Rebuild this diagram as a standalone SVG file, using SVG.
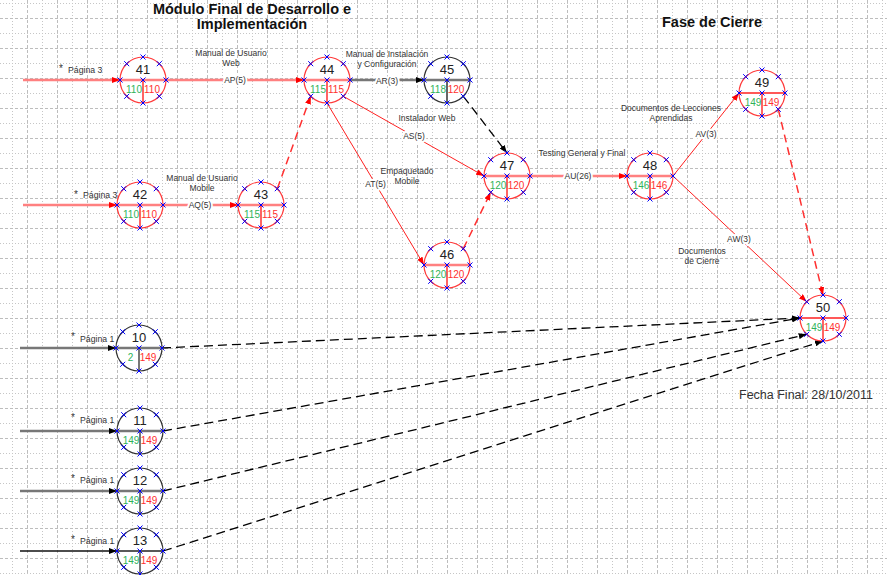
<svg xmlns="http://www.w3.org/2000/svg" width="887" height="575" viewBox="0 0 887 575">
<style>
text{font-family:"Liberation Sans",Arial,sans-serif;}
.ttl{font-size:14.5px;font-weight:bold;fill:#111;text-anchor:middle;}
.lb{font-size:8.5px;fill:#333;text-anchor:middle;}
.cd{font-size:8.5px;fill:#333;text-anchor:middle;stroke:#fff;stroke-width:4;paint-order:stroke;stroke-linejoin:round;}
.pg{font-size:8.7px;fill:#333;}
.st{font-size:10px;fill:#333;}
.num{font-size:13px;fill:#222;text-anchor:middle;}
.es{font-size:10px;fill:#2fb35a;text-anchor:middle;}
.ls{font-size:10px;fill:#ff3030;text-anchor:middle;}
.cr{fill:#fff;stroke:#ff3b3b;stroke-width:1.2;}
.ck{fill:#fff;stroke:#333;stroke-width:1.2;}
.hp{stroke:#ff8080;stroke-width:2.5;}
.hr{stroke:#ff2020;stroke-width:1.5;}
.hg{stroke:#777;stroke-width:2.5;}
.hk{stroke:#222;stroke-width:1.5;}
.vr{stroke:#ff3030;stroke-width:1.5;}
.vk{stroke:#333;stroke-width:1.5;}
.vg{stroke:#777;stroke-width:2;}
.ep{stroke:#ff8080;stroke-width:2.5;fill:none;}
.er{stroke:#ff2020;stroke-width:1;fill:none;}
.erd{stroke:#ff3030;stroke-width:1.5;fill:none;stroke-dasharray:8 5;}
.ekd{stroke:#000;stroke-width:1.3;fill:none;stroke-dasharray:9 5;}
.eg{stroke:#777;stroke-width:2.5;fill:none;}
.ek{stroke:#111;stroke-width:1.5;fill:none;}
.mk{stroke:#0000ff;stroke-width:1;fill:none;}
.gmin{stroke:#c6c6c6;stroke-width:1;stroke-dasharray:1 2;fill:none;}
.gmaj{stroke:#bdbdbd;stroke-width:1;stroke-dasharray:3 2;fill:none;}
</style>
<defs>
<marker id="ar" viewBox="0 0 8 6" refX="8" refY="3" markerWidth="8" markerHeight="6" markerUnits="userSpaceOnUse" orient="auto"><path d="M0,0L8,3L0,6z" fill="#ff0000"/></marker>
<marker id="ak" viewBox="0 0 8 6" refX="8" refY="3" markerWidth="8" markerHeight="6" markerUnits="userSpaceOnUse" orient="auto"><path d="M0,0L8,3L0,6z" fill="#000"/></marker>
<path id="xm" class="mk" d="M-2.5,-25.5l5,5m0,-5l-5,5M13.8,-18.8l5,5m0,-5l-5,5M20.5,-2.5l5,5m0,-5l-5,5M13.8,13.8l5,5m0,-5l-5,5M-2.5,20.5l5,5m0,-5l-5,5M-18.8,13.8l5,5m0,-5l-5,5M-25.5,-2.5l5,5m0,-5l-5,5M-18.8,-18.8l5,5m0,-5l-5,5M-2.5,-2.5l5,5m0,-5l-5,5"/>
</defs>
<rect width="887" height="575" fill="#fff"/>
<g id="grid">
<path class="gmin" d="M12.5,0V575M42.5,0V575M72.5,0V575M102.5,0V575M132.5,0V575M162.5,0V575M192.5,0V575M222.5,0V575M252.5,0V575M282.5,0V575M312.5,0V575M342.5,0V575M372.5,0V575M402.5,0V575M432.5,0V575M462.5,0V575M492.5,0V575M522.5,0V575M552.5,0V575M582.5,0V575M612.5,0V575M642.5,0V575M672.5,0V575M702.5,0V575M732.5,0V575M762.5,0V575M792.5,0V575M822.5,0V575M852.5,0V575M882.5,0V575M0,3.5H887M0,33.5H887M0,63.5H887M0,93.5H887M0,123.5H887M0,153.5H887M0,183.5H887M0,213.5H887M0,243.5H887M0,273.5H887M0,303.5H887M0,333.5H887M0,363.5H887M0,393.5H887M0,423.5H887M0,453.5H887M0,483.5H887M0,513.5H887M0,543.5H887M0,573.5H887"/>
<path class="gmaj" d="M27.5,0V575M57.5,0V575M87.5,0V575M117.5,0V575M147.5,0V575M177.5,0V575M207.5,0V575M237.5,0V575M267.5,0V575M297.5,0V575M327.5,0V575M357.5,0V575M387.5,0V575M417.5,0V575M447.5,0V575M477.5,0V575M507.5,0V575M537.5,0V575M567.5,0V575M597.5,0V575M627.5,0V575M657.5,0V575M687.5,0V575M717.5,0V575M747.5,0V575M777.5,0V575M807.5,0V575M837.5,0V575M867.5,0V575M0,18.5H887M0,48.5H887M0,78.5H887M0,108.5H887M0,138.5H887M0,168.5H887M0,198.5H887M0,228.5H887M0,258.5H887M0,288.5H887M0,318.5H887M0,348.5H887M0,378.5H887M0,408.5H887M0,438.5H887M0,468.5H887M0,498.5H887M0,528.5H887M0,558.5H887"/>
</g>

<g id="titles">
<text class="ttl" x="252" y="13.5">Módulo Final de Desarrollo e</text>
<text class="ttl" x="252" y="29">Implementación</text>
<text class="ttl" x="712" y="27">Fase de Cierre</text>
<text x="739" y="399" style="font-size:12.5px;fill:#333;">Fecha Final: 28/10/2011</text>
</g>

<g id="connectors">
<line class="ep" x1="23" y1="80" x2="120" y2="80" marker-end="url(#ar)"/>
<line class="ep" x1="166" y1="80" x2="304" y2="80" marker-end="url(#ar)"/>
<line class="eg" x1="350" y1="80" x2="424" y2="80" marker-end="url(#ak)"/>
<line class="er" x1="343.3" y1="96.3" x2="484" y2="176" marker-end="url(#ar)"/>
<line class="er" x1="327" y1="103" x2="424" y2="265" marker-end="url(#ar)"/>
<line class="ekd" x1="463.3" y1="96.3" x2="507" y2="153" marker-end="url(#ak)"/>
<line class="erd" x1="463.3" y1="248.7" x2="490.7" y2="192.3" marker-end="url(#ar)"/>
<line class="erd" x1="277.3" y1="188.7" x2="310.7" y2="96.3" marker-end="url(#ar)"/>
<line class="ep" x1="23" y1="205" x2="117" y2="205" marker-end="url(#ar)"/>
<line class="ep" x1="163" y1="205" x2="238" y2="205" marker-end="url(#ar)"/>
<line class="ep" x1="530" y1="176" x2="627" y2="176" marker-end="url(#ar)"/>
<line class="er" x1="673" y1="176" x2="739" y2="93" marker-end="url(#ar)"/>
<line class="er" x1="673" y1="176" x2="806.7" y2="301.7" marker-end="url(#ar)"/>
<line class="erd" x1="778.3" y1="109.3" x2="823" y2="295" marker-end="url(#ar)"/>
<line class="ekd" x1="162" y1="348" x2="800" y2="318" marker-end="url(#ak)"/>
<line class="ekd" x1="163" y1="431" x2="800" y2="318" marker-end="url(#ak)"/>
<line class="ekd" x1="163" y1="491" x2="806.7" y2="334.3" marker-end="url(#ak)"/>
<line class="ekd" x1="163" y1="551" x2="823" y2="341" marker-end="url(#ak)"/>
<line class="eg" x1="20" y1="348" x2="116" y2="348" marker-end="url(#ak)"/>
<line class="eg" x1="20" y1="431" x2="117" y2="431" marker-end="url(#ak)"/>
<line class="eg" x1="20" y1="491" x2="117" y2="491" marker-end="url(#ak)"/>
<line class="ek" x1="20" y1="551" x2="117" y2="551" marker-end="url(#ak)"/>
</g>

<g id="labels">
<text class="lb" x="231" y="56">Manual de Usuario</text>
<text class="lb" x="231" y="66">Web</text>
<text class="cd" x="235" y="83">AP(5)</text>
<text class="lb" x="387" y="57">Manual de Instalación</text>
<text class="lb" x="387" y="67">y Configuración</text>
<text class="cd" x="387" y="84">AR(3)</text>
<text class="lb" x="427" y="121">Instalador Web</text>
<text class="cd" x="414" y="139">AS(5)</text>
<text class="lb" x="407" y="174">Empaquetado</text>
<text class="lb" x="407" y="184">Mobile</text>
<text class="cd" x="375.5" y="187">AT(5)</text>
<text class="lb" x="202" y="181">Manual de Usuario</text>
<text class="lb" x="202" y="191">Mobile</text>
<text class="cd" x="200" y="208">AQ(5)</text>
<text class="lb" x="582" y="156">Testing General y Final</text>
<text class="cd" x="578" y="179">AU(26)</text>
<text class="lb" x="671" y="110.5">Documentos de Lecciones</text>
<text class="lb" x="671" y="120.5">Aprendidas</text>
<text class="cd" x="706" y="137">AV(3)</text>
<text class="cd" x="739" y="241.5">AW(3)</text>
<text class="lb" x="702" y="253.5">Documentos</text>
<text class="lb" x="702" y="263.5">de Cierre</text>
<text class="st" x="59" y="72">*</text><text class="pg" x="68" y="73">Página 3</text>
<text class="st" x="74" y="198">*</text><text class="pg" x="83" y="198">Página 3</text>
<text class="st" x="71" y="340">*</text><text class="pg" x="80" y="342">Página 1</text>
<text class="st" x="71" y="421">*</text><text class="pg" x="80" y="423">Página 1</text>
<text class="st" x="71" y="482">*</text><text class="pg" x="80" y="483">Página 1</text>
<text class="st" x="71" y="543">*</text><text class="pg" x="80" y="544">Página 1</text>
</g>

<g id="node-41" transform="translate(143,80)">
<circle r="23" class="cr"/><line class="hp" x1="-23" y1="0" x2="23" y2="0"/><line class="vr" x1="0" y1="0" x2="0" y2="23"/>
<text class="num" y="-6">41</text><text class="es" x="-9" y="13.3">110</text><text class="ls" x="9" y="13.3">110</text><use href="#xm"/>
</g>
<g id="node-42" transform="translate(140,205)">
<circle r="23" class="cr"/><line class="hp" x1="-23" y1="0" x2="23" y2="0"/><line class="vr" x1="0" y1="0" x2="0" y2="23"/>
<text class="num" y="-6">42</text><text class="es" x="-9" y="13.3">110</text><text class="ls" x="9" y="13.3">110</text><use href="#xm"/>
</g>
<g id="node-43" transform="translate(261,205)">
<circle r="23" class="cr"/><line class="hp" x1="-23" y1="0" x2="23" y2="0"/><line class="vr" x1="0" y1="0" x2="0" y2="23"/>
<text class="num" y="-6">43</text><text class="es" x="-9" y="13.3">115</text><text class="ls" x="9" y="13.3">115</text><use href="#xm"/>
</g>
<g id="node-44" transform="translate(327,80)">
<circle r="23" class="cr"/><line class="hp" x1="-23" y1="0" x2="23" y2="0"/><line class="vr" x1="0" y1="0" x2="0" y2="23"/>
<text class="num" y="-6">44</text><text class="es" x="-9" y="13.3">115</text><text class="ls" x="9" y="13.3">115</text><use href="#xm"/>
</g>
<g id="node-45" transform="translate(447,80)">
<circle r="23" class="ck"/><line class="hg" x1="-23" y1="0" x2="23" y2="0"/><line class="vk" x1="0" y1="0" x2="0" y2="23"/>
<text class="num" y="-6">45</text><text class="es" x="-9" y="13.3">118</text><text class="ls" x="9" y="13.3">120</text><use href="#xm"/>
</g>
<g id="node-46" transform="translate(447,265)">
<circle r="23" class="cr"/><line class="hp" x1="-23" y1="0" x2="23" y2="0"/><line class="vr" x1="0" y1="0" x2="0" y2="23"/>
<text class="num" y="-6">46</text><text class="es" x="-9" y="13.3">120</text><text class="ls" x="9" y="13.3">120</text><use href="#xm"/>
</g>
<g id="node-47" transform="translate(507,176)">
<circle r="23" class="cr"/><line class="hp" x1="-23" y1="0" x2="23" y2="0"/><line class="vr" x1="0" y1="0" x2="0" y2="23"/>
<text class="num" y="-6">47</text><text class="es" x="-9" y="13.3">120</text><text class="ls" x="9" y="13.3">120</text><use href="#xm"/>
</g>
<g id="node-48" transform="translate(650,176)">
<circle r="23" class="cr"/><line class="hp" x1="-23" y1="0" x2="23" y2="0"/><line class="vr" x1="0" y1="0" x2="0" y2="23"/>
<text class="num" y="-6">48</text><text class="es" x="-9" y="13.3">146</text><text class="ls" x="9" y="13.3">146</text><use href="#xm"/>
</g>
<g id="node-49" transform="translate(762,93)">
<circle r="23" class="cr"/><line class="hr" x1="-23" y1="0" x2="23" y2="0"/><line class="vr" x1="0" y1="0" x2="0" y2="23"/>
<text class="num" y="-6">49</text><text class="es" x="-9" y="13.3">149</text><text class="ls" x="9" y="13.3">149</text><use href="#xm"/>
</g>
<g id="node-50" transform="translate(823,318)">
<circle r="23" class="cr"/><line class="hr" x1="-23" y1="0" x2="23" y2="0"/><line class="vr" x1="0" y1="0" x2="0" y2="23"/>
<text class="num" y="-6">50</text><text class="es" x="-9" y="13.3">149</text><text class="ls" x="9" y="13.3">149</text><use href="#xm"/>
</g>
<g id="node-10" transform="translate(139,348)">
<circle r="23" class="ck"/><line class="hg" x1="-23" y1="0" x2="23" y2="0"/><line class="vg" x1="0" y1="0" x2="0" y2="23"/>
<text class="num" y="-6">10</text><text class="es" x="-8.5" y="13.3">2</text><text class="ls" x="9" y="13.3">149</text><use href="#xm"/>
</g>
<g id="node-11" transform="translate(140,431)">
<circle r="23" class="ck"/><line class="hg" x1="-23" y1="0" x2="23" y2="0"/><line class="vg" x1="0" y1="0" x2="0" y2="23"/>
<text class="num" y="-6">11</text><text class="es" x="-9" y="13.3">149</text><text class="ls" x="9" y="13.3">149</text><use href="#xm"/>
</g>
<g id="node-12" transform="translate(140,491)">
<circle r="23" class="ck"/><line class="hg" x1="-23" y1="0" x2="23" y2="0"/><line class="vg" x1="0" y1="0" x2="0" y2="23"/>
<text class="num" y="-6">12</text><text class="es" x="-9" y="13.3">149</text><text class="ls" x="9" y="13.3">149</text><use href="#xm"/>
</g>
<g id="node-13" transform="translate(140,551)">
<circle r="23" class="ck"/><line class="hk" x1="-23" y1="0" x2="23" y2="0"/><line class="vg" x1="0" y1="0" x2="0" y2="23"/>
<text class="num" y="-6">13</text><text class="es" x="-9" y="13.3">149</text><text class="ls" x="9" y="13.3">149</text><use href="#xm"/>
</g>
</svg>
